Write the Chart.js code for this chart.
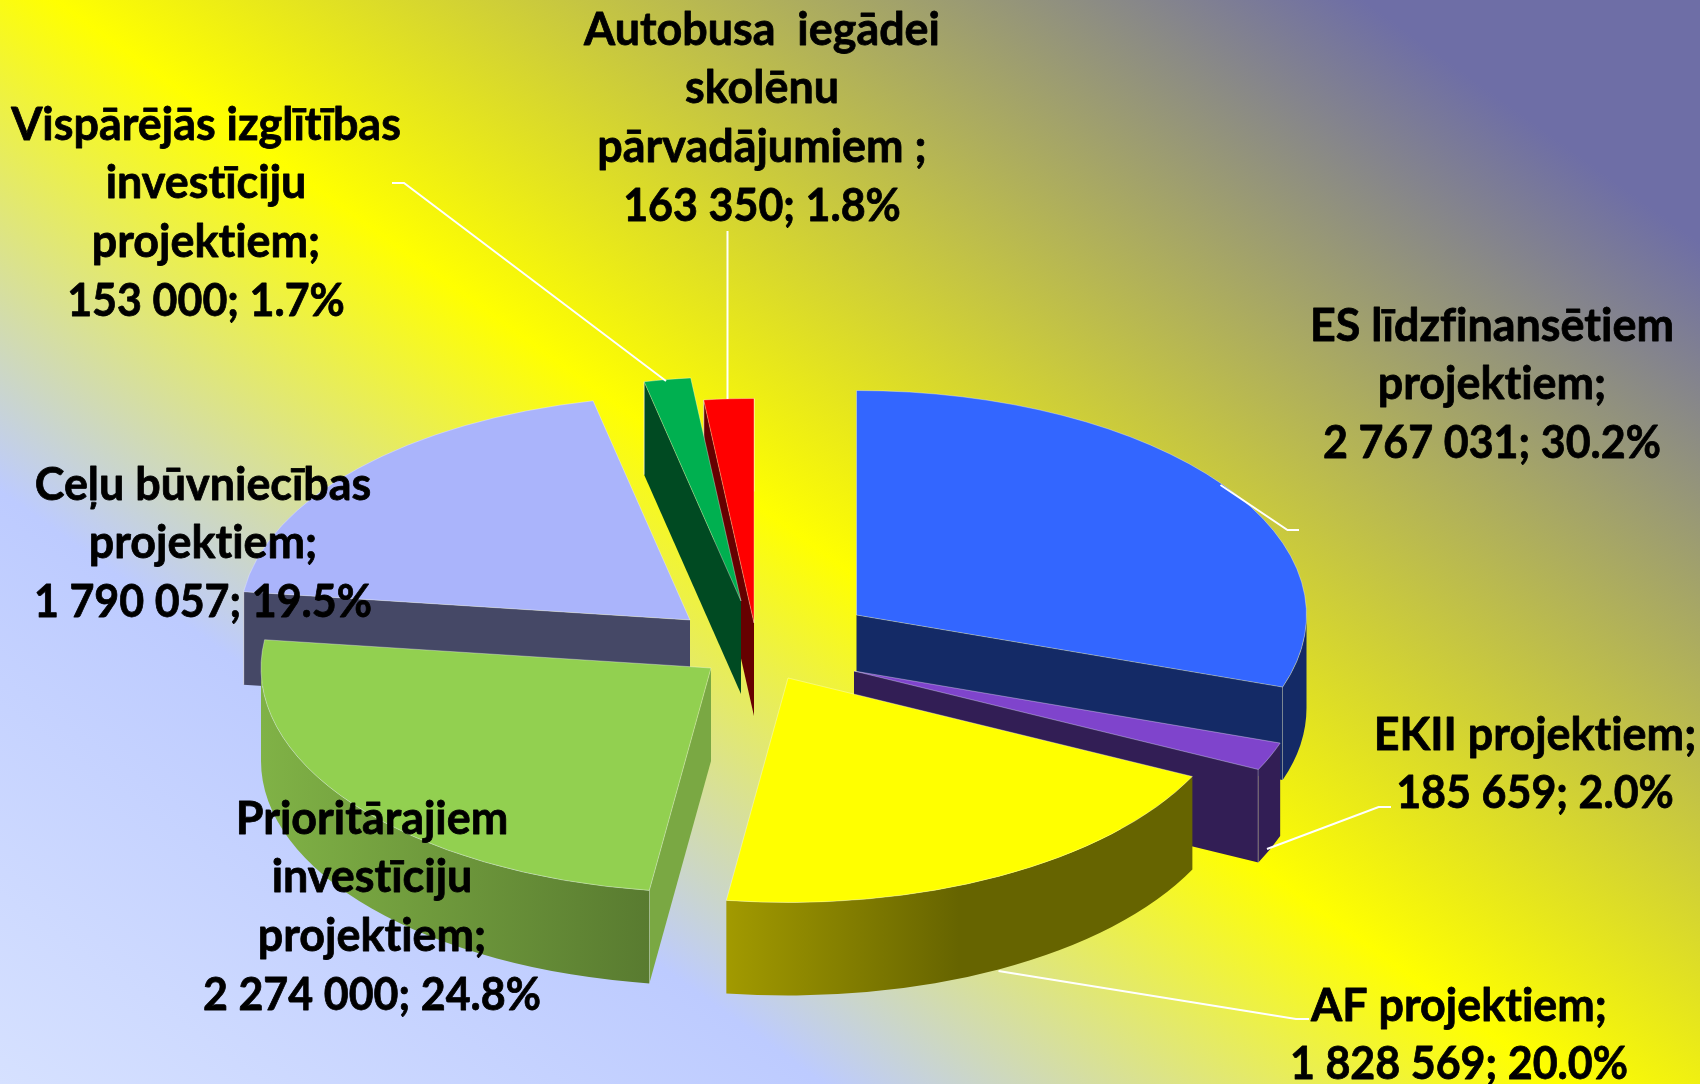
<!DOCTYPE html>
<html><head><meta charset="utf-8">
<style>html,body{margin:0;padding:0;background:#fff;overflow:hidden}#w{width:1700px;height:1084px;position:relative}</style>
<script src="https://cdn.jsdelivr.net/npm/chart.js@4"></script>
</head><body><div id="w"><canvas id="c" width="1700" height="1084"></canvas></div>
<script>
const categories=["ES līdzfinansētiem projektiem","EKII projektiem","AF projektiem","Prioritārajiem investīciju projektiem","Ceļu būvniecības projektiem","Vispārējās izglītības investīciju projektiem","Autobusa iegādei skolēnu pārvadājumiem"];
const values=[2767031,185659,1828569,2274000,1790057,153000,163350];
const labelLines=[["ES līdzfinansētiem","projektiem;"],["EKII projektiem;"],["AF projektiem;"],["Prioritārajiem","investīciju","projektiem;"],["Ceļu būvniecības","projektiem;"],["Vispārējās izglītības","investīciju","projektiem;"],["Autobusa  iegādei","skolēnu","pārvadājumiem ;"]];
const topColors=["#3366ff","#7f44cc","#ffff00","#92d050","#aab4fb","#00b050","#ff0000"];
const faceColors=["#142a66","#321e55","#666400","#7aa843","#454866","#004a22","#660000"];
const wallStops=[[[0,"#142a66"],[1,"#142a66"]],[[0,"#321e55"],[1,"#321e55"]],[[0,"#a29a00"],[.5,"#666400"],[1,"#666400"]],[[0,"#80b246"],[1,"#597b30"]],[[0,"#454866"],[1,"#454866"]],[[0,"#004a22"],[1,"#004a22"]],[[0,"#660000"],[1,"#660000"]]];
// pie geometry: exploded slice shift from the pie centre, tilt, extrusion
const explodeX=[6.5,4,-62,-139,-160,-109,-96];
const explodeY=[73,129,136,126,78,59,81];
const RX=450,RY=224.5,DEPTH=93;
const drawOrder=[0,1,2,4,3,6,5];
const labelCenterX=[1492,1535,1459,372,203,206,762];
const labelFirstY=[326,735,1006,819,485,125,30];
const LINE_H=58.6,FONT_SIZE=46,FONT_XSCALE=.975,VALUE_XSCALE=.935;
const leaders=[[[1299,530],[1287.5,530],[1220.5,485]],[[1391,807],[1378.6,807],[1267,849]],[[1309,1019],[1296,1019],[998.5,971]],[],[],[[392,183],[404,183],[666,381]],[[727.5,231],[727.5,399]]];
const gradientStops=[[0,"#d6e1ff"],[.257,"#bdcbff"],[.487,"#ffff00"],[.895,"#6e6ea6"],[1,"#6e6ea6"]];
const total=values.reduce((a,b)=>a+b,0);
const fmt=v=>String(v).replace(/\B(?=(\d{3})+$)/g," ");

const pie3d={id:"pie3d",
 beforeDraw(chart){const {ctx,width:W,height:H}=chart;
  const ux=.72,uy=-1,range=(ux*W)+(H),s=range/(ux*ux+uy*uy);
  const g=ctx.createLinearGradient(0,H,ux*s,H+uy*s);
  gradientStops.forEach(([t,c])=>g.addColorStop(t,c));
  ctx.fillStyle=g;ctx.fillRect(0,0,W,H);},
 beforeDatasetDraw(chart,args){const ctx=chart.ctx,arcs=args.meta.data;
  drawOrder.forEach(i=>{const a=arcs[i];
   const cx=a.x+explodeX[i],cy=a.y+explodeY[i];
   const s=a.startAngle,e=a.endAngle;
   const edge="rgba(255,255,255,.55)";
   const rim=p=>[cx+RX*Math.cos(p),cy+RY*Math.sin(p)];
   const face=p=>{const [x,y]=rim(p);ctx.beginPath();ctx.moveTo(cx,cy);ctx.lineTo(x,y);ctx.lineTo(x,y+DEPTH);ctx.lineTo(cx,cy+DEPTH);ctx.closePath();ctx.fillStyle=faceColors[i];ctx.fill();
     ctx.beginPath();ctx.moveTo(x,y);ctx.lineTo(x,y+DEPTH);ctx.strokeStyle=edge;ctx.lineWidth=1.2;ctx.stroke();};
   if(Math.cos(s)<0)face(s);
   if(Math.cos(e)>0)face(e);
   const w0=Math.max(s,0),w1=Math.min(e,Math.PI);
   if(w1>w0){const xa=rim(w0)[0],xb=rim(w1)[0],lo=Math.min(xa,xb),hi=Math.max(xa,xb);
    const g=ctx.createLinearGradient(lo,0,hi,0);wallStops[i].forEach(([t,c])=>g.addColorStop(t,c));
    ctx.beginPath();ctx.ellipse(cx,cy,RX,RY,0,w0,w1);ctx.ellipse(cx,cy+DEPTH,RX,RY,0,w1,w0,true);ctx.closePath();ctx.fillStyle=g;ctx.fill();}
   ctx.save();ctx.translate(cx,cy);ctx.scale(RX/a.outerRadius,RY/a.outerRadius);ctx.translate(-a.x,-a.y);a.draw(ctx);ctx.restore();
  });
  return false;},
 afterDatasetsDraw(chart){const ctx=chart.ctx;
  ctx.save();ctx.strokeStyle="#fff";ctx.lineWidth=2;
  leaders.forEach(l=>{if(!l.length)return;ctx.beginPath();l.forEach(([x,y],k)=>k?ctx.lineTo(x,y):ctx.moveTo(x,y));ctx.stroke();});
  ctx.fillStyle="#000";ctx.strokeStyle="#000";ctx.lineWidth=.8;ctx.lineJoin="round";ctx.textAlign="center";ctx.textBaseline="middle";ctx.font=`bold ${FONT_SIZE}px Lato`;ctx.letterSpacing="0.01px";
  labelLines.forEach((ls,i)=>{const lines=[...ls,`${fmt(values[i])}; ${(values[i]/total*100).toFixed(1)}%`];
   lines.forEach((t,k)=>{ctx.save();ctx.translate(labelCenterX[i],labelFirstY[i]+k*LINE_H);ctx.scale(k===lines.length-1?VALUE_XSCALE:FONT_XSCALE,1);ctx.fillText(t,0,0);ctx.strokeText(t,0,0);ctx.restore();});});
  ctx.restore();}
};
new Chart(document.getElementById("c"),{type:"pie",plugins:[pie3d],
 data:{labels:categories,datasets:[{data:values,backgroundColor:topColors,borderColor:"rgba(255,255,255,.55)",borderWidth:1}]},
 options:{responsive:false,animation:false,rotation:0,layout:{padding:0},plugins:{legend:{display:false},tooltip:{enabled:false}}}});
</script></body></html>
